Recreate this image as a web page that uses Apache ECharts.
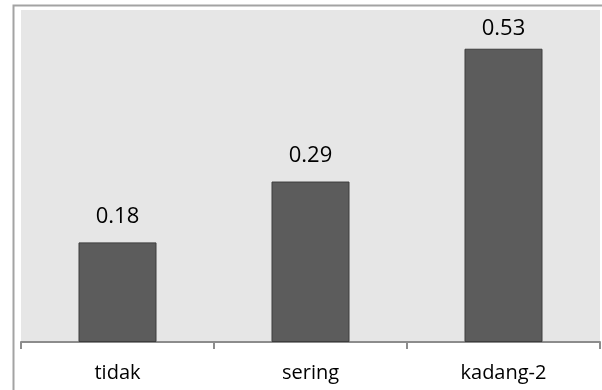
<!DOCTYPE html>
<html>
<head>
<meta charset="utf-8">
<script src="https://cdn.jsdelivr.net/npm/echarts@6/dist/echarts.min.js"></script>
<style>
  html, body { margin: 0; padding: 0; background: #ffffff; }
  #chart { width: 602px; height: 390px; }
</style>
</head>
<body>
<div id="chart"></div>
<script>
// Response categories and their shares
const categories = ['tidak', 'sering', 'kadang-2'];
const values = [0.18, 0.29, 0.53];

const chart = echarts.init(document.getElementById('chart'), null, { renderer: 'canvas' });

const font = "'Open Sans', 'Noto Sans', 'Liberation Sans', sans-serif";
const yMax = 0.6;
const highest = Math.max(...values);

// the tallest bar's label sits a little closer so it stays inside the plot area
const barData = values.map(v => ({
  value: v,
  label: { distance: v === highest ? 9 : 15 }
}));

chart.setOption({
  animation: false,
  backgroundColor: '#ffffff',
  graphic: [
    {
      // outer chart frame
      type: 'rect',
      z: -10,
      shape: { x: 13.5, y: 5.5, width: 700, height: 500 },
      style: { fill: 'none', stroke: '#a3a3a3', lineWidth: 2 }
    }
  ],
  grid: {
    left: 21, top: 10, right: 2, bottom: 48,
    show: true,
    backgroundColor: '#e6e6e6',
    borderWidth: 0
  },
  xAxis: {
    type: 'category',
    data: categories,
    boundaryGap: true,
    axisLine: { show: true, lineStyle: { color: '#8c8c8c', width: 2 } },
    axisTick: { show: true, alignWithLabel: false, length: 7, lineStyle: { color: '#8c8c8c', width: 2 } },
    axisLabel: { color: '#000000', fontFamily: font, fontSize: 20, margin: 21 }
  },
  yAxis: {
    type: 'value',
    min: 0,
    max: yMax,
    show: false,
    splitLine: { show: false }
  },
  series: [
    {
      type: 'bar',
      data: barData,
      barWidth: 78,
      itemStyle: { color: '#5c5c5c', borderColor: '#3d3d3d', borderWidth: 1 },
      label: {
        show: true,
        position: 'top',
        color: '#000000',
        fontFamily: font,
        fontSize: 22,
        formatter: p => p.value.toFixed(2)
      }
    }
  ]
});
</script>
</body>
</html>
